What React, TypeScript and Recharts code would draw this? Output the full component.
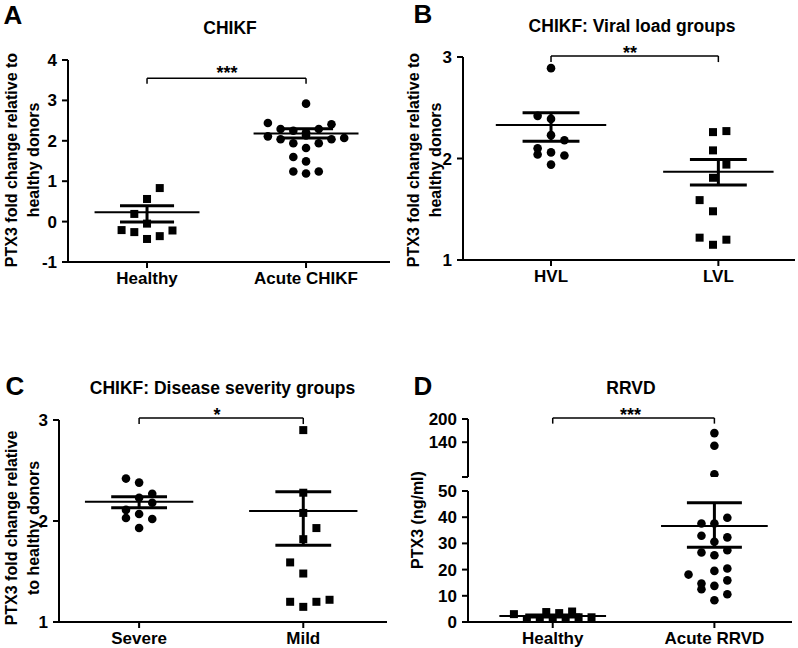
import { ScatterChart, Scatter, XAxis, YAxis, ReferenceLine } from 'recharts'

const FONT = '"Liberation Sans", Arial, Helvetica, sans-serif'

// column step for the jittered points, in x units
const STEP = 0.08
const MEAN_HALF = 0.33
const SEM_HALF = 0.17

// A: CHIKF
const A_CATS = ['Healthy', 'Acute CHIKF']
const A_TICKS = [-1, 0, 1, 2, 3, 4]
const A_HEALTHY = [0.83, 0.56, 0.19, -0.05, -0.21, -0.26, -0.22, -0.43, -0.36]
const A_HEALTHY_COL = [1, 0, -1, 0, -2, -1, 2, 0, 1]
const A_ACUTE = [2.92, 2.44, 2.41, 2.29, 2.25, 2.29, 2.21, 2.11, 2.04, 1.94, 2.13, 1.94, 2.04, 2.07, 1.82, 1.6, 1.49, 1.24, 1.19, 1.24]
const A_ACUTE_COL = [0, -3, 2, -2, -1, 1, 0, -3, -2, -1, 0, 1, 2, 3, 0, -1, 0, -1, 0, 1]
const A_MEAN = [0.23, 2.18]
const A_HI = [0.395, 2.3]
const A_LO = [-0.01, 2.07]

// B: viral load groups
const B_CATS = ['HVL', 'LVL']
const B_TICKS = [1, 2, 3]
const B_HVL = [2.89, 2.42, 2.39, 2.23, 2.18, 2.1, 2.04, 2.06, 2.03, 1.94]
const B_HVL_COL = [0, -1, 0, 0, 1, -1, -1, 0, 1, 0]
const B_LVL = [2.26, 2.27, 2.08, 1.94, 1.81, 1.59, 1.48, 1.22, 1.15, 1.2]
const B_LVL_COL = [-0.4, 0.6, -0.4, 0.6, -0.4, -1.4, -0.4, -1.4, -0.4, 0.6]
const B_MEAN = [2.33, 1.87]
const B_HI = [2.45, 1.99]
const B_LO = [2.17, 1.74]

// C: disease severity groups
const C_CATS = ['Severe', 'Mild']
const C_TICKS = [1, 2, 3]
const C_SEVERE = [2.42, 2.38, 2.27, 2.23, 2.18, 2.11, 2.07, 2.03, 2.02, 1.93]
const C_SEVERE_COL = [-1, 0, 1, 0, 1, -1, 0, -1, 1, 0]
const C_MILD = [2.9, 2.28, 2.08, 1.93, 1.82, 1.59, 1.48, 1.2, 1.15, 1.2, 1.22]
const C_MILD_COL = [0, 0, 0, 1, 0, -1, 0, -1, 0, 1, 2]
const C_MEAN = [2.19, 2.1]
const C_HI = [2.24, 2.29]
const C_LO = [2.13, 1.76]

// D: RRVD (broken axis)
const D_CATS = ['Healthy', 'Acute RRVD']
const D_TICKS_LOW = [0, 10, 20, 30, 40, 50]
const D_TICKS_HIGH = [50, 140, 200]
const D_HEALTHY = [3.0, 1.0, 1.0, 3.8, 1.0, 3.4, 1.0, 4.0, 1.8, 1.8]
const D_HEALTHY_COL = [-3, -2, -1, -0.5, 0, 0.5, 1, 1.5, 2, 3]
const D_ACUTE = [163.5, 131, 57.3, 39.8, 37.6, 37.6, 32.9, 32.3, 30.6, 26.5, 27.4, 25.5, 20.4, 19.5, 18.1, 15.9, 14.7, 12.5, 13.8, 10.6, 8.3]
const D_ACUTE_COL = [0, 0, 0, 1, -1, 0, -1, 1, 0, -1, 1, 0, 1, 0, -2, 1, -1, -1, 0, 1, 0]
const D_MEAN = [2.3, 36.6]
const D_HI = [2.7, 45.5]
const D_LO = [1.9, 28.5]

const axisStyle = { stroke: '#000', strokeWidth: 2 }

const Dot = (p: any) => <circle cx={p.cx} cy={p.cy} r={4.3} fill="#000" />
const Sq = (p: any) => <rect x={p.cx - 4} y={p.cy - 4} width={8} height={8} fill="#000" />

function points(values: number[], cols: number[], group: number) {
  return values.map((v, i) => ({ x: group + cols[i] * STEP, y: v }))
}

function seg(x1: number, y1: number, x2: number, y2: number, w: number, key: string) {
  return (
    <ReferenceLine
      key={key}
      segment={[{ x: x1, y: y1 }, { x: x2, y: y2 }]}
      stroke="#000"
      strokeWidth={w}
      ifOverflow="visible"
    />
  )
}

interface Series {
  data: { x: number; y: number }[]
  shape: any
}

interface PanelProps {
  box: { x0: number; x1: number; y0: number; y1: number }
  xDomain: [number, number]
  yDomain: [number, number]
  yTicks: number[]
  cats: string[]
  series: Series[]
  mean?: number[]
  hi?: number[]
  lo?: number[]
  bracket?: [number, number]
  hideX?: boolean
  yFmt?: (v: number) => string
}

function Panel({ box, xDomain, yDomain, yTicks, cats, series, mean, hi, lo, bracket, hideX, yFmt }: PanelProps) {
  const TOP = 45
  const YW = 60
  const XH = hideX ? 0 : 40
  const R = 3
  const B = hideX ? 3 : 0
  const w = box.x1 - box.x0 + YW + R
  const h = box.y1 - box.y0 + TOP + XH + B
  const lines: any[] = []
  if (mean && hi && lo) {
    mean.forEach((m, i) => {
      const g = i + 1
      lines.push(seg(g - MEAN_HALF, m, g + MEAN_HALF, m, 2, `m${i}`))
      lines.push(seg(g - SEM_HALF, hi[i], g + SEM_HALF, hi[i], 3, `h${i}`))
      lines.push(seg(g - SEM_HALF, lo[i], g + SEM_HALF, lo[i], 3, `l${i}`))
      lines.push(seg(g, lo[i], g, hi[i], 3, `v${i}`))
    })
  }
  if (bracket) {
    const [by, drop] = bracket
    lines.push(seg(1, by, 2, by, 1.5, 'b0'))
    lines.push(seg(1, by, 1, drop, 1.5, 'b1'))
    lines.push(seg(2, by, 2, drop, 1.5, 'b2'))
  }
  return (
    <div style={{ position: 'absolute', left: box.x0 - YW, top: box.y0 - TOP }}>
      <ScatterChart width={w} height={h} margin={{ top: TOP, right: R, bottom: B, left: 0 }}>
        <XAxis
          type="number"
          dataKey="x"
          domain={xDomain}
          allowDataOverflow
          ticks={[1, 2]}
          interval={0}
          tickFormatter={(v: number) => cats[v - 1]}
          hide={hideX}
          height={XH}
          axisLine={axisStyle}
          tickLine={axisStyle}
          tickSize={6}
          tickMargin={4}
          tick={{ fill: '#000', fontSize: 17, fontWeight: 700, fontFamily: FONT }}
        />
        <YAxis
          type="number"
          dataKey="y"
          domain={yDomain}
          allowDataOverflow
          ticks={yTicks}
          interval={0}
          width={YW}
          tickFormatter={yFmt}
          axisLine={axisStyle}
          tickLine={axisStyle}
          tickSize={6}
          tickMargin={5}
          tick={{ fill: '#000', fontSize: 17, fontWeight: 700, fontFamily: FONT }}
        />
        {series.map((s, i) => (
          <Scatter key={i} data={s.data} shape={s.shape} isAnimationActive={false} />
        ))}
        {lines}
      </ScatterChart>
    </div>
  )
}

function Txt({ x, y, size, children, rotate = 0, lh }: any) {
  return (
    <div
      style={{
        position: 'absolute',
        left: x,
        top: y,
        transform: `translate(-50%, -50%) rotate(${rotate}deg)`,
        fontSize: size,
        fontWeight: 700,
        fontFamily: FONT,
        lineHeight: lh ? `${lh}px` : 1,
        whiteSpace: 'nowrap',
        textAlign: 'center',
        color: '#000',
      }}
    >
      {children}
    </div>
  )
}

const within = (lo: number, hi: number) => (p: { y: number }) => p.y >= lo && p.y <= hi

export default function App() {
  const dHealthy = points(D_HEALTHY, D_HEALTHY_COL, 1)
  const dAcute = points(D_ACUTE, D_ACUTE_COL, 2)
  return (
    <div style={{ position: 'absolute', left: 0, top: 0, width: 798, height: 648, overflow: 'hidden', background: '#fff' }}>
      <Panel
        box={{ x0: 68, x1: 390, y0: 60, y1: 262 }}
        xDomain={[0.503, 2.528]}
        yDomain={[-1, 4]}
        yTicks={A_TICKS}
        cats={A_CATS}
        series={[
          { data: points(A_HEALTHY, A_HEALTHY_COL, 1), shape: Sq },
          { data: points(A_ACUTE, A_ACUTE_COL, 2), shape: Dot },
        ]}
        mean={A_MEAN}
        hi={A_HI}
        lo={A_LO}
        bracket={[3.55, 3.41]}
      />
      <Panel
        box={{ x0: 463, x1: 795, y0: 57, y1: 260 }}
        xDomain={[0.474, 2.458]}
        yDomain={[1, 3]}
        yTicks={B_TICKS}
        cats={B_CATS}
        series={[
          { data: points(B_HVL, B_HVL_COL, 1), shape: Dot },
          { data: points(B_LVL, B_LVL_COL, 2), shape: Sq },
        ]}
        mean={B_MEAN}
        hi={B_HI}
        lo={B_LO}
        bracket={[3.01, 2.95]}
      />
      <Panel
        box={{ x0: 59, x1: 387, y0: 420, y1: 622 }}
        xDomain={[0.512, 2.51]}
        yDomain={[1, 3]}
        yTicks={C_TICKS}
        cats={C_CATS}
        series={[
          { data: points(C_SEVERE, C_SEVERE_COL, 1), shape: Dot },
          { data: points(C_MILD, C_MILD_COL, 2), shape: Sq },
        ]}
        mean={C_MEAN}
        hi={C_HI}
        lo={C_LO}
        bracket={[3.02, 2.96]}
      />
      <Panel
        box={{ x0: 468, x1: 792, y0: 419, y1: 477 }}
        xDomain={[0.476, 2.48]}
        yDomain={[50, 200]}
        yTicks={D_TICKS_HIGH}
        yFmt={(v: number) => (v === 50 ? '' : String(v))}
        cats={D_CATS}
        hideX
        series={[{ data: dAcute.filter(within(50, 200)), shape: Dot }]}
        bracket={[202.6, 188]}
      />
      <Panel
        box={{ x0: 468, x1: 792, y0: 491, y1: 622 }}
        xDomain={[0.476, 2.48]}
        yDomain={[0, 50]}
        yTicks={D_TICKS_LOW}
        cats={D_CATS}
        series={[
          { data: dHealthy, shape: Sq },
          { data: dAcute.filter(within(0, 50)), shape: Dot },
        ]}
        mean={D_MEAN}
        hi={D_HI}
        lo={D_LO}
      />

      <Txt x={13} y={14.5} size={26}>A</Txt>
      <Txt x={423} y={14} size={26}>B</Txt>
      <Txt x={15} y={386} size={26}>C</Txt>
      <Txt x={423} y={385.5} size={26}>D</Txt>

      <Txt x={230} y={29} size={17.5}>CHIKF</Txt>
      <Txt x={632} y={27} size={17.5}>CHIKF: Viral load groups</Txt>
      <Txt x={222.5} y={389} size={17.5}>CHIKF: Disease severity groups</Txt>
      <Txt x={631} y={389} size={17.5}>RRVD</Txt>

      <Txt x={22.5} y={160} size={16} lh={22} rotate={-90}>
        PTX3 fold change relative to<br />healthy donors
      </Txt>
      <Txt x={425} y={160} size={16} lh={22} rotate={-90}>
        PTX3 fold change relative to<br />healthy donors
      </Txt>
      <Txt x={22.5} y={528} size={16} lh={22} rotate={-90}>
        PTX3 fold change relative<br />to healthy donors
      </Txt>
      <Txt x={418} y={520} size={16} rotate={-90}>PTX3 (ng/ml)</Txt>

      <Txt x={227} y={73} size={18}>***</Txt>
      <Txt x={630} y={52.5} size={18}>**</Txt>
      <Txt x={217} y={414.5} size={18}>*</Txt>
      <Txt x={630.5} y={414.5} size={18}>***</Txt>
    </div>
  )
}
